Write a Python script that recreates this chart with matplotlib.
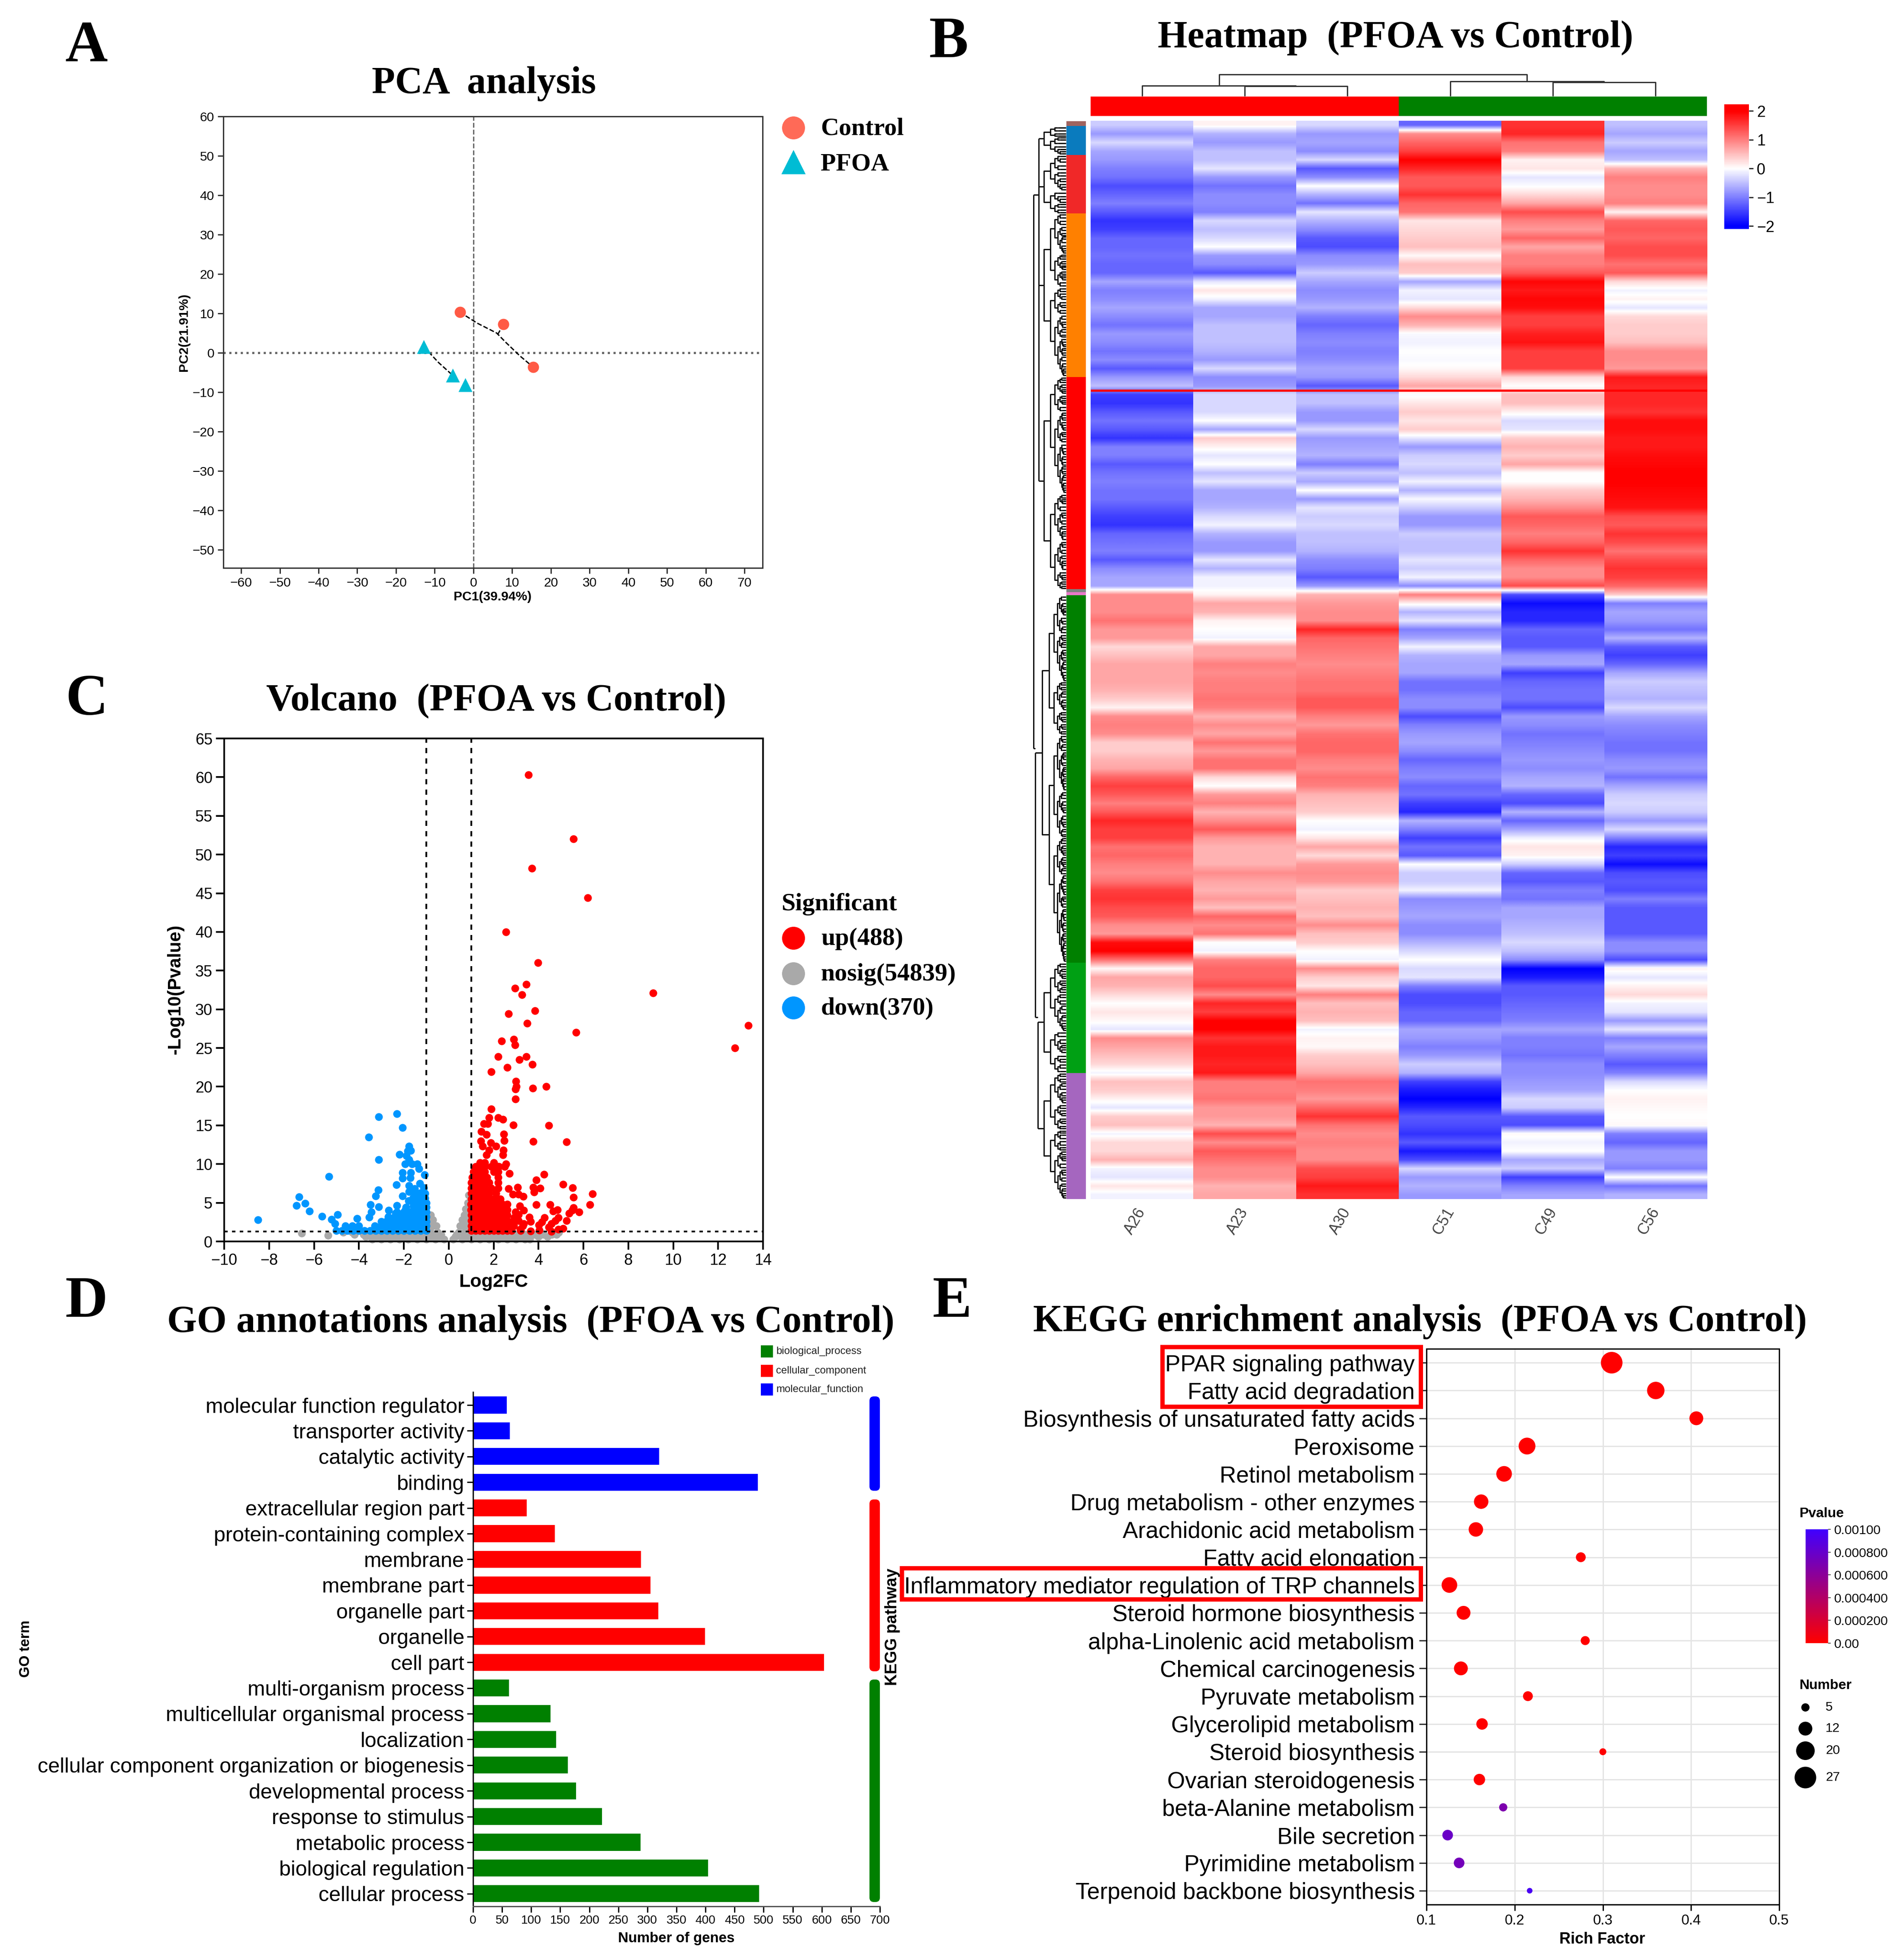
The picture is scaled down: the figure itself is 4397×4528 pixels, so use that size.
import numpy as np
import matplotlib
matplotlib.use('Agg')
import matplotlib.pyplot as plt
from matplotlib.colors import LinearSegmentedColormap
from matplotlib.collections import LineCollection
from matplotlib.patches import Rectangle, FancyBboxPatch

plt.rcParams['font.family'] = ['Liberation Sans', 'DejaVu Sans']

W, H = 4397, 4528
SERIF = 'Liberation Serif'

## Panel A data
pca_control_x = [-3.5, 7.7, 15.5]
pca_control_y = [10.3, 7.2, -3.7]
pca_pfoa_x = [-12.8, -5.4, -2.1]
pca_pfoa_y = [1.5, -5.7, -8.2]
pca_link1_x = [-3.5, 1, 6, 8.5, 12, 15.5]
pca_link1_y = [10.3, 7.5, 5, 2.5, -0.8, -3.7]
pca_link2_x = [7.7, 6.5, 6]
pca_link2_y = [7.2, 5, 4.4]
pca_link3_x = [-12.8, -9, -5.4]
pca_link3_y = [1.5, -2.5, -5.7]

## Panel B data, one array per sample, top row first
hm_samples = ['A26', 'A23', 'A30', 'C51', 'C49', 'C56']
hm_a26 = [-.4,-.8,-.3,-.7,-.8,-1.,-1.1,-1.4,-1.2,-1.,-1.3,-1.6,-1.5,-1.2,-1.2,-1.1,-1.2,-1.2,-.7,-1.,-.9,-.7,-.9,-1.1,-.8,-.9,-1.1,-.9,-1.3,-.8,-.5,
          -1.5,-1.6,-1.3,-1.1,-1.3,-1.6,-1.,-1.,-1.3,-1.1,-1.,-1.1,-1.1,-1.3,-1.5,-1.6,-1.2,-1.1,-1.,-1.3,-.9,-.7,-.7,.9,.9,.9,1.1,.8,.8,.3,.5,
          .7,.7,.7,.6,.4,.1,.9,1.,.9,.4,.4,.6,.7,1.2,1.5,1.3,1.,1.3,1.7,1.5,1.5,1.1,1.2,1.,.9,1.1,1.5,1.6,1.4,1.3,.9,
          .8,1.9,2.,1.1,.05,.7,.6,.3,0,.2,.05,-.2,.9,.7,.5,.3,-.1,.5,.4,.1,-.2,.4,.5,-.1,.3,.3,.6,-.1,-.2,.2,-.1]
hm_a23 = [.1,-.6,-.8,-.5,-.5,-.2,-.8,-1.1,-.9,-.9,-1.,-.3,-.5,-.3,0,-.8,-.9,-1.3,-.2,.2,-.1,-.7,-.7,-.5,-.5,-.5,-.6,-.8,-.3,-.9,-.8,
          -.3,-.3,-.3,0,-.7,.4,.1,-.2,0,-.5,-.2,-.7,-.7,-.6,-.3,-.1,-.6,-.8,-.8,-.2,-.6,-.1,-.1,.1,.7,.6,.1,0,-.1,.7,.7,
          1.,.9,1.,1.,1.1,1.,.6,.9,.7,1.1,.8,1.1,1.1,.3,0,.8,1.,.6,.9,1.3,.8,.6,.6,.6,.9,.7,.6,.8,.5,1.2,.9,
          1.1,0,-.1,1.,1.2,1.2,1.4,.9,1.7,1.5,2.,2.,1.6,1.8,1.8,1.7,1.8,1.,1.,1.1,.8,.8,.6,1.4,.9,1.3,1.1,.9,.9,.6,.7]
hm_a30 = [-.3,-.8,-.7,-.9,-.3,-1.3,-.9,0,-.6,-1.1,-.2,-.6,-.9,-1.3,-1.4,-.9,-.8,-.4,-.7,-.9,-.8,-.6,-1.,-1.2,-1.,-.9,-1.,-.9,-.7,-.8,-1.3,
          -.5,-.5,-.8,-.8,-.3,-.8,-.7,-.6,-1.,-.4,-.7,0,-.8,-.2,-.4,-.3,-.5,-.5,-.6,-.9,-1.,-1.3,-.8,.6,.8,.9,.9,1.7,1.2,1.1,1.,
          .9,1.,1.1,1.1,1.3,1.3,1.,.8,1.1,1.2,1.2,1.,.9,1.1,1.,.6,.5,.4,0,-.1,.2,.7,.3,.8,.9,.8,.4,.5,.6,.5,.9,
          .5,.4,0,-.1,.9,.4,.2,1.,.5,.6,.5,-.1,.1,.05,.4,.5,.7,1.1,1.,.8,1.2,1.6,1.1,.9,1.,.9,.9,1.4,1.5,1.8,1.6]
hm_c51 = [-1.2,.9,1.2,1.5,2.,1.7,1.3,1.3,1.6,1.2,1.1,.2,.3,.4,.5,.05,.5,.4,-.7,-.1,-.2,.3,.9,.6,-.05,-.1,0,-.05,.05,.3,.7,
          -.05,.2,.4,.2,.4,-.2,-.8,-.4,-.3,-.5,-.1,-.6,-.05,-.4,-.8,-.8,-.4,-.5,-.5,-.2,-.4,-.1,-.9,1.,.1,-.6,-.2,-1.,-.7,-.1,-.6,
          -.7,-.7,-1.1,-1.1,-.9,-.9,-1.4,-1.,-.8,-.7,-.9,-1.2,-1.,-.9,-1.2,-1.1,-1.5,-1.7,-.6,-1.,-1.5,-1.1,-1.3,0,-.4,-.4,-.1,-.9,-.8,-.7,-.9,
          -.9,-.6,-.3,0,-.3,-.2,-1.,-1.4,-1.4,-1.2,-1.2,-.7,-.8,-1.,-.8,-.4,-.6,-1.5,-1.8,-2.,-1.7,-1.3,-1.4,-1.6,-1.3,-1.8,-1.4,-.3,-.8,-.6,-.8]
hm_c49 = [1.6,1.7,1.1,1.,.1,.2,-.2,-.02,.3,.7,1.4,1.,.8,1.2,.7,1.,1.,1.3,1.95,1.8,1.95,1.9,1.5,1.5,1.75,1.85,1.5,1.5,1.5,.3,0,
          .5,.5,.1,-.3,-.2,.4,.6,.4,.7,0,0,.4,.6,.9,1.3,1.2,1.,1.2,1.6,1.2,.9,.9,1.4,-1.4,-1.9,-1.7,-1.7,-1.2,-1.3,-1.3,-.8,
          -.7,-1.5,-1.2,-1.1,-1.1,-1.4,-.8,-.9,-1.1,-1.,-.9,-.8,-.9,-.7,-.6,-1.2,-1.4,-.6,-1.2,-.7,-.1,.2,.1,-.4,-1.2,-1.3,-1.,-1.1,-.7,-.7,-.6,
          -.5,-.3,-.5,-.9,-2.,-1.8,-1.3,-1.3,-1.2,-1.1,-1.,-.7,-1.,-1.,-1.1,-.9,-.9,-.8,-.7,-.3,-.4,-1.3,-1.4,.05,-.1,0,-.7,-.4,-1.5,-1.,-.7]
hm_c56 = [-.5,-.7,-.4,-.7,-.5,.6,1.,.9,.9,1.,.1,1.2,1.3,1.2,1.4,1.4,1.1,1.3,.3,-.1,.1,-.2,.3,.4,.4,.5,.9,.9,.8,1.8,1.7,
          1.7,1.7,1.6,1.9,1.9,1.8,1.8,1.9,1.95,2.,2.,1.95,1.9,1.85,1.4,1.3,1.6,1.4,1.1,1.4,1.6,1.5,1.2,.4,-1.,-.7,-.8,-1.1,-.6,-1.3,-1.5,
          -1.2,-.7,-.4,-.5,-.6,-.3,-.7,-.9,-1.,-1.1,-1.1,-.9,-.8,-1.1,-.7,-.4,-.3,-.4,-.8,-.3,-1.,-1.7,-1.5,-1.9,-1.4,-1.3,-1.4,-1.,-1.3,-1.3,-1.3,
          -1.3,-.9,-.9,-1.4,.1,-.2,.1,.3,-.1,-.2,-.8,-.2,-1.,-.7,-1.,-1.3,-1.,-.3,0,.1,.05,0,.05,-1.,-1.2,-.8,-.8,-1.,0,-1.1,-.6]
hm_cbar_ticks = [2, 1, 0, -1, -2]
side_edges = [280, 291, 358, 493, 871, 1361, 1368, 1375, 2224, 2479, 2770]
side_colors = ['#A0645F', '#0A7BBE', '#F02828', '#FF8000', '#FF0000', '#7F7F7F', '#E878C8', '#008000', '#00A014', '#A566BF']

## Panel C data, rows of points (-log10 p, list of log2FC) plus single points
grey_rows = [(0.3, [-3.4,-3.0,-2.6,-2.2,-1.8,-1.4,-1.0,-0.6,-0.2,0.2,0.6,1.0,1.4,1.8,2.2,2.6,3.0,3.4,3.6]),
             (0.6, [-3.7,-3.2,-2.8,-2.4,-2.0,-1.6,-1.2,-0.8,-0.45,0.3,0.8,1.2,1.6,2.0,2.4,2.8,3.2,3.6,4.0,4.4]),
             (0.9, [-4.2,-3.8,-3.4,-3.0,-2.6,-2.2,-1.8,-1.4,-1.0,-0.7,-0.35,0.35,0.7,1.0,1.4,1.8,2.2,2.6,3.0,3.4,3.8,4.2,4.6,4.8]),
             (1.2, [-4.7,-4.3,-1.0,-0.8,-0.5,0.45,0.7,0.9,4.9]),
             (2.0, [-0.95,-0.7,-0.55,0.5,0.7,0.85]),
             (2.8, [-0.85,-0.7,0.6,0.75,0.85]),
             (3.4, [-0.8,0.7,0.85]),
             (4.2, [0.75,0.85]),
             (5.0, [0.85]),
             (6.0, [0.9])]
grey_single_x = [-6.55, -5.38]
grey_single_y = [1.09, 0.81]
down_rows = [(1.4, [-5.0,-4.75,-4.5,-4.25,-4.0,-3.75,-3.5,-3.25,-3.0,-2.75,-2.5,-2.25,-2.0,-1.75,-1.5,-1.25,-1.0]),
             (2.0, [-4.6,-4.3,-4.0,-3.3,-3.0,-2.75,-2.5,-2.25,-2.0,-1.75,-1.5,-1.25,-1.0]),
             (2.6, [-3.0,-2.8,-2.6,-2.4,-2.2,-2.0,-1.75,-1.5,-1.25,-1.0]),
             (3.2, [-2.7,-2.4,-2.2,-2.0,-1.75,-1.5,-1.25,-1.0]),
             (3.8, [-2.3,-2.0,-1.75,-1.5,-1.25,-1.0]),
             (4.4, [-1.9,-1.5,-1.25,-1.0]),
             (5.0, [-1.5,-1.25,-1.0]),
             (5.6, [-1.6,-1.3,-1.05]),
             (6.2, [-1.5,-1.2,-1.05])]
down_single_x = [-2.31,-3.11,-2.06,-3.57,-1.76,-1.7,-2.19,-1.82,-3.11,-1.88,-1.76,-1.94,-1.63,-1.41,-1.33,-5.34,-2.06,-1.7,-1.08,-2.06,-1.72,-2.33,-1.29,-1.76,-1.12,-1.51,-3.13,-3.26,-2.06,-1.76,-1.27,-6.67,-6.4,-6.79,-6.2,-5.65,-8.49,-4.95,-5.22,-5.07,-4.09,-3.48,-3.11,-3.45,-3.54,-2.68,-2.31,-2.37,-1.94,-1.79,-1.57]
down_single_y = [16.48,16.12,14.69,13.48,12.3,11.73,11.26,11.7,10.56,11.07,10.6,10.04,10.04,10.04,9.38,8.38,8.91,8.91,8.63,8.15,8.25,7.31,7.5,7.21,6.93,6.84,6.65,5.89,5.89,6.46,6.27,5.74,4.9,4.67,3.92,3.22,2.79,3.48,2.88,2.32,2.94,4.76,4.48,3.82,3.16,4.01,4.67,3.63,4.01,5.24,4.58]
up_rows = [(1.4, [1.0,1.2,1.4,1.6,1.8,2.0,2.2,2.4,2.6,2.8,3.2]),
           (2.0, [1.0,1.2,1.4,1.6,1.8,2.0,2.2,2.4,2.6,2.9,3.3]),
           (2.7, [1.0,1.2,1.4,1.6,1.8,2.0,2.2,2.4,2.6,2.9,3.1]),
           (3.4, [1.0,1.2,1.4,1.6,1.8,2.0,2.2,2.4,2.6,3.0]),
           (4.1, [0.98,1.2,1.4,1.6,1.8,2.0,2.2,2.4,2.6]),
           (4.8, [0.98,1.2,1.4,1.6,1.8,2.0,2.2,2.4,2.6]),
           (5.5, [1.0,1.2,1.4,1.6,1.8,2.0,2.3]),
           (6.2, [1.0,1.2,1.4,1.6,1.8,2.1]),
           (6.9, [1.0,1.2,1.4,1.6,1.9,2.2]),
           (7.6, [1.0,1.2,1.4,1.6,1.8,2.2]),
           (8.3, [1.05,1.25,1.45,1.7,2.2]),
           (9.0, [1.1,1.3,1.5,1.6,2.0,2.2]),
           (9.7, [1.2,1.4,1.6,1.9,2.2,2.5]),
           (10.2, [1.4,1.6,2.0])]
up_single_x = [3.55,5.55,3.7,6.2,2.55,3.97,3.45,2.95,3.27,9.1,13.35,12.75,3.85,2.67,3.5,5.67,2.9,2.35,2.95,3.45,2.2,3.15,2.6,3.72,1.9,3.0,3.02,2.98,3.75,4.35,2.98,
               1.9,1.8,2.21,2.42,1.56,1.74,2.87,4.45,1.46,1.68,2.46,2.48,1.44,3.77,5.25,1.5,1.87,2.11,1.8,2.44,1.68,2.42,2.54,2.24,2.7,
               6.41,6.28,5.52,5.56,5.1,4.24,3.9,3.77,4.08,3.81,3.07,2.67,2.85,3.1,3.32,3.9,4.51,4.84,4.66,5.55,5.8,5.49,5.37,5.25,4.88,4.75,4.57,4.26,4.14,3.59,3.65,4.02,4.45,5.1,4.88,4.57,4.04,3.65,3.19,3.34,2.85,3.16,3.34,2.97,3.1,2.91]
up_single_y = [60.3,52,48.2,44.4,40,36,33.2,32.7,31.9,32.1,27.9,25,29.8,29.4,28.2,27,26.1,25.9,25.4,23.9,23.9,23.5,22.5,22.9,21.9,20.7,20,19.7,19.8,20,18.4,
               17.1,16,16,15.8,15.2,15.2,15.07,15,14.2,13.8,13.9,13.05,12.96,12.9,12.86,12.3,12.77,12.3,11.8,11.8,11.17,11.17,10.04,9.66,8.76,
               6.18,4.73,6.93,5.7,7.4,8.66,7.93,7.02,6.87,6.37,7.02,6.84,6.08,6.08,5.8,4.73,4.76,4.1,3.92,4.39,3.79,4.01,3.63,2.69,3.07,2.69,2.32,3.07,2.5,3.16,2.6,2.13,1.85,1.66,1.56,1.28,1.47,1.37,1.56,2.32,2.32,4.58,4.01,3.82,3.45,3.07]

## Panel D data
go_terms = ['molecular function regulator', 'transporter activity', 'catalytic activity', 'binding',
            'extracellular region part', 'protein-containing complex', 'membrane', 'membrane part',
            'organelle part', 'organelle', 'cell part', 'multi-organism process',
            'multicellular organismal process', 'localization', 'cellular component organization or biogenesis',
            'developmental process', 'response to stimulus', 'metabolic process', 'biological regulation',
            'cellular process']
go_counts = [58, 63, 320, 490, 92, 141, 289, 305, 319, 399, 604, 62, 133, 143, 163, 177, 222, 288, 404, 492]
go_colors = ['#0000FF'] * 4 + ['#FF0000'] * 7 + ['#008000'] * 9
go_xticks = list(range(0, 701, 50))
go_legend = ['biological_process', 'cellular_component', 'molecular_function']
go_legend_colors = ['#008000', '#FF0000', '#0000FF']

## Panel E data
kegg_terms = ['PPAR signaling pathway', 'Fatty acid degradation', 'Biosynthesis of unsaturated fatty acids',
              'Peroxisome', 'Retinol metabolism', 'Drug metabolism - other enzymes', 'Arachidonic acid metabolism',
              'Fatty acid elongation', 'Inflammatory mediator regulation of TRP channels', 'Steroid hormone biosynthesis',
              'alpha-Linolenic acid metabolism', 'Chemical carcinogenesis', 'Pyruvate metabolism', 'Glycerolipid metabolism',
              'Steroid biosynthesis', 'Ovarian steroidogenesis', 'beta-Alanine metabolism', 'Bile secretion',
              'Pyrimidine metabolism', 'Terpenoid backbone biosynthesis']
kegg_rich = [.310, .360, .406, .214, .188, .162, .156, .275, .126, .142, .280, .139, .215, .163, .300, .160, .187, .124, .137, .217]
kegg_number = [27, 18, 12, 17, 15, 13, 13, 7, 15, 12, 6, 12, 7, 9, 4, 9, 5, 8, 8, 3]
kegg_pvalue = [0, 0, 0, 0, 0, 0, 0, 0, 0, 0, 0, 0, 0, 0, 0, 0, .00068, .00078, .00073, .00095]
number_legend = [5, 12, 20, 27]
number_diam_px = [19, 32, 43, 50]
pvalue_ticks = [.001, .0008, .0006, .0004, .0002, 0]
pvalue_labels = ['0.00100', '0.000800', '0.000600', '0.000400', '0.000200', '0.00']


def pt(px):
    return px * 0.72


def px_axes(x0, y0, x1, y1):
    return fig.add_axes([x0 / W, 1 - y1 / H, (x1 - x0) / W, (y1 - y0) / H])


def label(x, y, s, size, **kw):
    kw.setdefault('ha', 'center')
    kw.setdefault('va', 'center')
    fig.text(x / W, 1 - y / H, s, fontsize=pt(size), **kw)


def serif_bold(x, y, s, size, **kw):
    label(x, y, s, size, family=SERIF, weight='bold', **kw)


def dots(size_px):
    return pt(size_px) ** 2


def split_rows(rows, xs, ys):
    all_x = list(xs)
    all_y = list(ys)
    for y, row in rows:
        all_x += row
        all_y += [y] * len(row)
    return all_x, all_y


fig = plt.figure(figsize=(W / 100, H / 100), dpi=100, facecolor='white')

## Panel letters and titles
serif_bold(200, 109, 'A', 136)
serif_bold(2192, 100, 'B', 136)
serif_bold(200, 1619, 'C', 136)
serif_bold(200, 3009, 'D', 136)
serif_bold(2200, 3009, 'E', 136)
serif_bold(1118, 194, 'PCA  analysis', 88)
serif_bold(3224, 87, 'Heatmap  (PFOA vs Control)', 88)
serif_bold(1147, 1619, 'Volcano  (PFOA vs Control)', 89)
serif_bold(1226, 3055, 'GO annotations analysis  (PFOA vs Control)', 88.5)
serif_bold(3281, 3054, 'KEGG enrichment analysis  (PFOA vs Control)', 88)

## A: PCA
ax = px_axes(516, 269, 1762, 1312)
ax.set_xlim(-64.6, 74.7)
ax.set_ylim(-54.65, 60)
ax.axvline(0, color='#666666', ls='--', lw=pt(3))
ax.axhline(0, color='#666666', ls=':', lw=pt(5))
for lx, ly in [(pca_link1_x, pca_link1_y), (pca_link2_x, pca_link2_y), (pca_link3_x, pca_link3_y)]:
    ax.plot(lx, ly, color='black', ls='--', lw=pt(3))
ax.scatter(pca_control_x, pca_control_y, s=dots(26), color='#FF5A45', lw=0, zorder=3)
ax.scatter(pca_pfoa_x, pca_pfoa_y, s=dots(32), color='#00BCD4', marker='^', lw=0, zorder=3)
ax.set_xticks(range(-60, 71, 10))
ax.set_yticks(range(-50, 61, 10))
ax.tick_params(labelsize=pt(30), length=pt(13), width=pt(3), pad=pt(8), color='#333333')
for s in ax.spines.values():
    s.set_linewidth(pt(3))
    s.set_color('#333333')
label(1138, 1379, 'PC1(39.94%)', 30, weight='bold')
label(425, 768, 'PC2(21.91%)', 30, weight='bold', rotation=90)

## C: volcano
ax = px_axes(518, 1706, 1763, 2868)
ax.set_xlim(-10, 14)
ax.set_ylim(0, 65)
gx, gy = split_rows(grey_rows, grey_single_x, grey_single_y)
dx, dy = split_rows(down_rows, down_single_x, down_single_y)
ux, uy = split_rows(up_rows, up_single_x, up_single_y)
ax.scatter(gx, gy, s=dots(18), color='#A9A9A9', lw=0, clip_on=False)
ax.scatter(dx, dy, s=dots(18), color='#0096FF', lw=0)
ax.scatter(ux, uy, s=dots(18), color='#FF0000', lw=0)
ax.axvline(-1, color='black', ls=(0, (3, 3)), lw=pt(4))
ax.axvline(1, color='black', ls=(0, (3, 3)), lw=pt(4))
ax.axhline(1.3, color='black', ls=(0, (2, 2.5)), lw=pt(4))
ax.set_xticks(range(-10, 15, 2))
ax.set_yticks(range(0, 66, 5))
ax.tick_params(labelsize=pt(36), length=pt(19), width=pt(4), pad=pt(8))
for s in ax.spines.values():
    s.set_linewidth(pt(4))
label(1140, 2962, 'Log2FC', 43, weight='bold')
label(405, 2286, '-Log10(Pvalue)', 42, weight='bold', rotation=90)

## B: heatmap, one image per sample so only the rows get smoothed
bwr = LinearSegmentedColormap.from_list('hm', ['#0000FF', '#FFFFFF', '#FF0000'])
hm_columns = [hm_a26, hm_a23, hm_a30, hm_c51, hm_c49, hm_c56]
ax = px_axes(2520, 279, 3944, 2770)
for i, col in enumerate(hm_columns):
    ax.imshow(np.array(col).reshape(-1, 1), cmap=bwr, vmin=-2, vmax=2, aspect='auto',
              interpolation='bilinear', extent=[i, i + 1, len(col), 0])
ax.set_xlim(0, 6)
ax.set_ylim(len(hm_a26), 0)
ax.axis('off')

ax = px_axes(3984, 241, 4041, 529)
grad = np.linspace(2.23, -2.1, 256).reshape(-1, 1)
ax.imshow(grad, cmap=bwr, vmin=-2, vmax=2, aspect='auto', extent=[0, 1, -2.1, 2.23])
ax.set_xticks([])
ax.yaxis.tick_right()
ax.set_yticks(hm_cbar_ticks)
ax.tick_params(labelsize=pt(36), length=pt(10), width=pt(3), pad=pt(8), color='#333333')
for s in ax.spines.values():
    s.set_visible(False)

## D: GO bars
ax = px_axes(1093, 3216, 2033, 4404)
go_y = np.arange(len(go_terms))
ax.barh(go_y, go_counts, height=0.66, color=go_colors)
ax.set_xlim(0, 700)
ax.set_ylim(19.49, -0.505)
ax.set_yticks(go_y)
ax.set_yticklabels(go_terms)
ax.set_xticks(go_xticks)
ax.tick_params(axis='y', labelsize=pt(48.5), length=pt(14), width=pt(3), pad=pt(6))
ax.tick_params(axis='x', labelsize=pt(28), length=pt(14), width=pt(3), pad=pt(6))
ax.spines['top'].set_visible(False)
ax.spines['right'].set_visible(False)
ax.spines['left'].set_linewidth(pt(3))
ax.spines['bottom'].set_linewidth(pt(3))
ax.spines['bottom'].set_color('#555555')
label(1563, 4478, 'Number of genes', 33, weight='bold')
label(59, 3809, 'GO term', 33, weight='bold', rotation=90)
label(2062, 3758, 'KEGG pathway', 37.5, weight='bold', rotation=90)

## E: KEGG dots
ax = px_axes(3296, 3116, 4111, 4400)
pcmap = LinearSegmentedColormap.from_list('p', ['#FF0000', '#4000FF'])
diam = np.interp(kegg_number, [3] + number_legend, [13] + number_diam_px)
kegg_y = np.arange(len(kegg_terms))
ax.scatter(kegg_rich, kegg_y, s=dots(diam), c=kegg_pvalue, cmap=pcmap, vmin=0, vmax=0.001, lw=0, zorder=3)
ax.set_xlim(0.1, 0.5)
ax.set_ylim(19.5, -0.5)
ax.set_yticks(kegg_y)
ax.set_yticklabels(kegg_terms)
ax.set_xticks([0.1, 0.2, 0.3, 0.4, 0.5])
ax.grid(color='#E4E4E4', lw=pt(3))
ax.set_axisbelow(True)
ax.tick_params(axis='y', labelsize=pt(53), length=pt(17), width=pt(3), pad=pt(10), color='#333333')
ax.tick_params(axis='x', labelsize=pt(33), length=pt(14), width=pt(3), pad=pt(8))
for s in ax.spines.values():
    s.set_linewidth(pt(3))
label(3702, 4481, 'Rich Factor', 36, weight='bold')
label(4158, 3497, 'Pvalue', 32, weight='bold', ha='left')
label(4158, 3894, 'Number', 32, weight='bold', ha='left')

ax = px_axes(4172, 3533, 4224, 3796)
ax.imshow(np.linspace(.001, 0, 256).reshape(-1, 1), cmap=pcmap, vmin=0, vmax=.001, aspect='auto', extent=[0, 1, 0, .001])
ax.set_xticks([])
ax.yaxis.tick_right()
ax.set_yticks(pvalue_ticks)
ax.set_yticklabels(pvalue_labels)
ax.tick_params(labelsize=pt(30), length=pt(6), width=pt(2), pad=pt(8), color='#555555')
for s in ax.spines.values():
    s.set_visible(False)

## Overlay in pixel coordinates for legends, annotation bars and dendrograms
ov = fig.add_axes([0, 0, 1, 1], zorder=10)
ov.set_xlim(0, W)
ov.set_ylim(H, 0)
ov.axis('off')

# PCA legend
ov.scatter([1833], [295], s=dots(53), color='#FF6A57', lw=0)
ov.scatter([1833], [374], s=dots(56), color='#00BCD4', marker='^', lw=0)
serif_bold(1896, 298, 'Control', 58, ha='left')
serif_bold(1896, 380, 'PFOA', 58, ha='left')

# volcano legend
sig_labels = ['up(488)', 'nosig(54839)', 'down(370)']
sig_colors = ['#FF0000', '#A9A9A9', '#0096FF']
sig_y = [2167, 2249, 2328]
serif_bold(1806, 2089, 'Significant', 58, ha='left')
for t, c, yy in zip(sig_labels, sig_colors, sig_y):
    ov.scatter([1833], [yy], s=dots(53), color=c, lw=0)
    serif_bold(1897, yy + 2, t, 58, ha='left')

# GO legend and group bars
for t, c, yy in zip(go_legend, go_legend_colors, [3122, 3167, 3210]):
    ov.add_patch(Rectangle((1758, yy - 14), 28, 28, color=c, lw=0))
    label(1793, yy, t, 24, ha='left', color='#222222')
for y0, y1, c in [(3226, 3444, '#0000FF'), (3464, 3861, '#FF0000'), (3880, 4394, '#008000')]:
    ov.add_patch(FancyBboxPatch((2009, y0), 24, y1 - y0, boxstyle='round,pad=0,rounding_size=10', color=c, lw=0))

# KEGG number legend and red highlight boxes
for n, d, yy in zip(number_legend, number_diam_px, [3944, 3993, 4044, 4106]):
    ov.scatter([4171], [yy], s=dots(d), color='black', lw=0)
    label(4218, yy, str(n), 30, ha='left')
for x0, y0, x1, y1 in [(2686, 3112, 3283, 3250), (2084, 3623, 3283, 3695)]:
    ov.add_patch(Rectangle((x0, y0), x1 - x0, y1 - y0, fill=False, edgecolor='#FF0000', lw=pt(10)))

# heatmap annotation bars
ov.add_patch(Rectangle((2520, 223), 712, 45, color='#FF0000', lw=0))
ov.add_patch(Rectangle((3232, 223), 712, 45, color='#008000', lw=0))
for i in range(len(side_colors)):
    ov.add_patch(Rectangle((2464, side_edges[i]), 45, side_edges[i + 1] - side_edges[i], color=side_colors[i], lw=0))
ov.hlines(902, 2520, 3944, color='#FF0000', lw=pt(5))
col_mid = [2639, 2876, 3113, 3351, 3588, 3825]
for name, xc in zip(hm_samples, col_mid):
    ov.text(xc - 16, 2822, name, fontsize=pt(36), rotation=60, ha='center', va='center', color='#444444')

# column dendrogram
col_segs = [[(2876, 222), (2876, 199), (3113, 199), (3113, 222)],
            [(2639, 222), (2639, 198), (2994, 198), (2994, 199)],
            [(3588, 222), (3588, 190), (3825, 190), (3825, 222)],
            [(3351, 222), (3351, 188), (3706, 188), (3706, 190)],
            [(2817, 198), (2817, 172), (3528, 172), (3528, 188)]]
ov.add_collection(LineCollection(col_segs, colors='#333333', linewidths=pt(3)))

# row dendrogram, bisect each colour block down to the leaves
ratios = [0.5, 0.38, 0.62, 0.45, 0.55, 0.3]
tree_segs = []


def tree(y0, y1, x, depth):
    if y1 - y0 < 9:
        ym = (y0 + y1) / 2
        tree_segs.append([(x, ym), (2463, ym)])
        return ym
    cut = y0 + (y1 - y0) * ratios[depth % len(ratios)]
    cx = x + (2461 - x) * 0.3
    a = tree(y0, cut, cx, depth + 1)
    b = tree(cut, y1, cx, depth + 2)
    tree_segs.append([(cx, a), (x, a), (x, b), (cx, b)])
    return (a + b) / 2


mids = [tree(side_edges[i], side_edges[i + 1], 2412, i) for i in [1, 2, 3, 4]]
low = [tree(1375, 2224, 2408, 1), tree(2224, 2479, 2412, 2), tree(2479, 2770, 2412, 3)]
for m in mids:
    tree_segs.append([(2400, m), (2412, m)])
tree_segs.append([(2400, mids[0]), (2400, mids[-1])])
tree_segs.append([(2398, low[1]), (2412, low[1])])
tree_segs.append([(2398, low[2]), (2412, low[2])])
tree_segs.append([(2398, low[1]), (2398, low[2])])
tree_segs.append([(2392, low[0]), (2408, low[0])])
tree_segs.append([(2392, 2350), (2398, 2350)])
tree_segs.append([(2392, low[0]), (2392, 2350)])
tree_segs.append([(2388, 450), (2400, 450)])
tree_segs.append([(2388, 1729), (2392, 1729)])
tree_segs.append([(2388, 450), (2388, 1729)])
ov.add_collection(LineCollection(tree_segs, colors='#111111', linewidths=pt(3)))

fig.savefig('out.png', dpi=100)
